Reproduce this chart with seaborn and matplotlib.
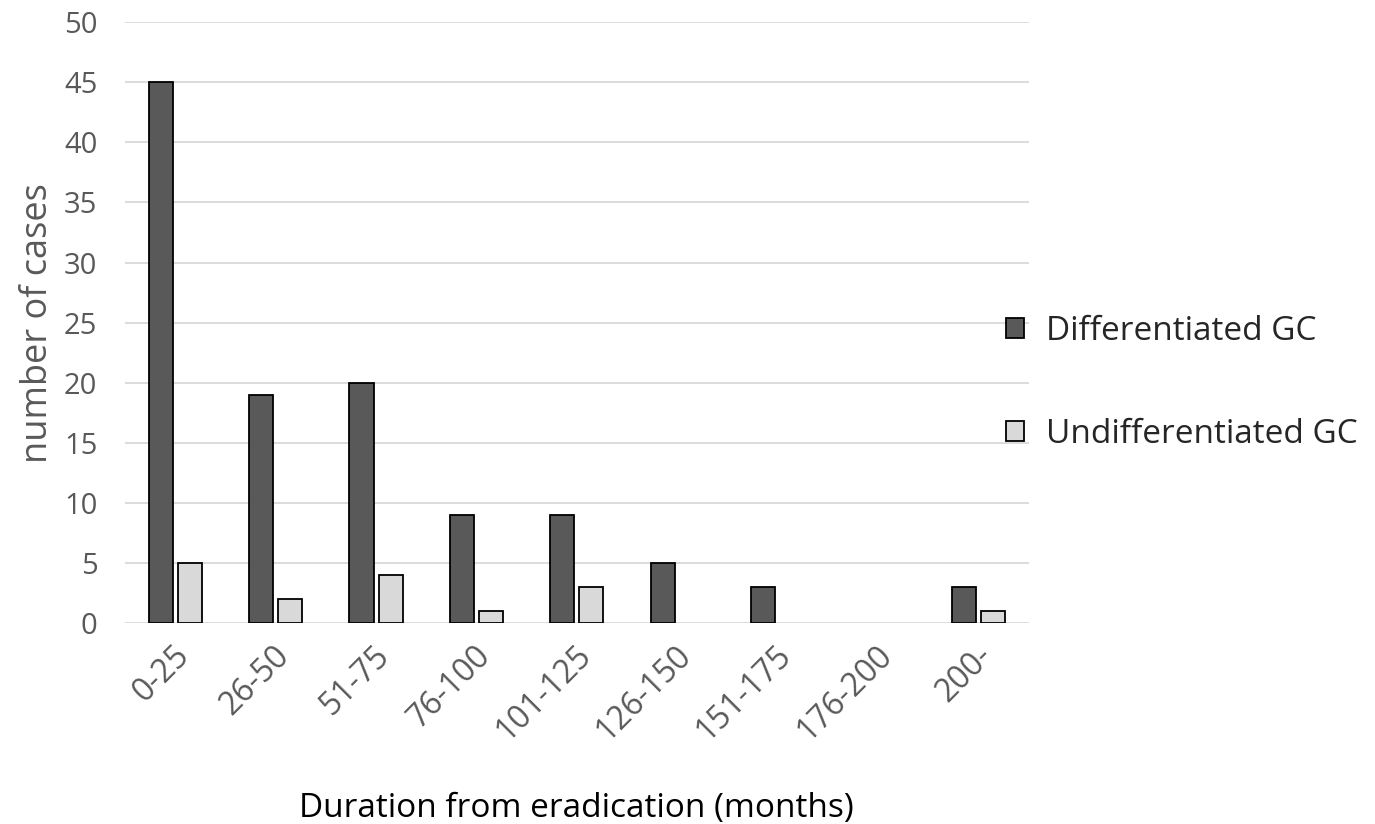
import matplotlib
matplotlib.use("Agg")
import matplotlib.pyplot as plt
import matplotlib.transforms as mtransforms
import seaborn as sns
import pandas as pd

# данные
categories = ["0-25", "26-50", "51-75", "76-100", "101-125",
              "126-150", "151-175", "176-200", "200-"]
differentiated = [45, 19, 20, 9, 9, 5, 3, 0, 3]
undifferentiated = [5, 2, 4, 1, 3, 0, 0, 0, 1]
series_names = ["Differentiated GC", "Undifferentiated GC"]

df = pd.DataFrame({
    "duration": categories * 2,
    "cases": differentiated + undifferentiated,
    "type": [series_names[0]] * len(categories) + [series_names[1]] * len(categories),
})

sns.set_style("white")
plt.rcParams["font.family"] = ["Open Sans", "DejaVu Sans"]

fig = plt.figure(figsize=(13.75, 8.24), dpi=100)
ax = fig.add_axes([0.091, 0.244, 0.657, 0.729])

sns.barplot(data=df, x="duration", y="cases", hue="type", order=categories,
            hue_order=series_names, palette=["#595959", "#d9d9d9"],
            width=0.58, gap=0.17, edgecolor="black", linewidth=1.3, ax=ax)

# нулевые столбики не рисуем (как в оригинале)
for cont in ax.containers:
    for bar in cont:
        if bar.get_height() == 0:
            bar.set_visible(False)

ax.set_ylim(0, 50)
ax.set_yticks(range(0, 51, 5))
ax.set_xlim(-0.5, len(categories) - 0.5)
ax.yaxis.grid(True, color="#d9d9d9", linewidth=1.3)
ax.set_axisbelow(True)
for s in ax.spines.values():
    s.set_visible(False)

ax.tick_params(axis="y", labelsize=21, labelcolor="#595959", length=0, pad=20)
ax.tick_params(axis="x", labelsize=23, labelcolor="#595959", length=0, pad=20)
shift = mtransforms.ScaledTranslation(9 / 100, 0, fig.dpi_scale_trans)
for lbl in ax.get_xticklabels():
    lbl.set_rotation(45)
    lbl.set_ha("right")
    lbl.set_va("center")
    lbl.set_rotation_mode("anchor")
    lbl.set_transform(lbl.get_transform() + shift)

ax.set_ylabel("number of cases", fontsize=26, color="#595959", labelpad=6)
ax.set_xlabel("Duration from eradication (months)", fontsize=24, color="black", labelpad=32)

leg = ax.legend(loc="center left", bbox_to_anchor=(0.960, 0.40), frameon=False,
                fontsize=24, handlelength=0.55, handleheight=0.55,
                labelspacing=2.1, handletextpad=0.65, borderaxespad=0)

fig.savefig("out.png", dpi=100)
